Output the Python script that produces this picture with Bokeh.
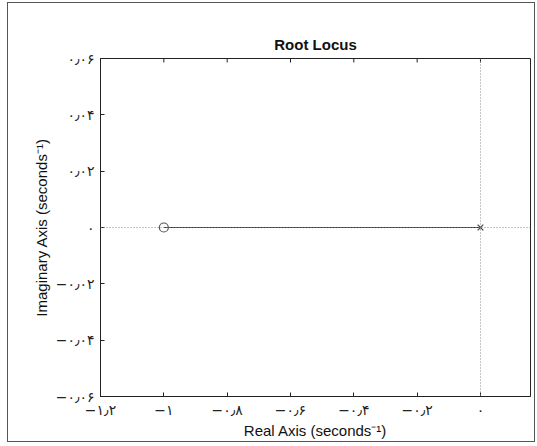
import math
from bokeh.plotting import figure
from bokeh.models import FixedTicker, Range1d, Span
from bokeh.embed import file_html
from bokeh.resources import INLINE

# data
zero_re = [-1.0]
zero_im = [0.0]
pole_re = [0.0]
pole_im = [0.0]
locus_re = [-1.0, 0.0]
locus_im = [0.0, 0.0]

x_ticks = [-1.2, -1.0, -0.8, -0.6, -0.4, -0.2, 0.0, 0.2]
x_labels = ["−۱٫۲", "−۱", "−۰٫۸", "−۰٫۶", "−۰٫۴", "−۰٫۲", "۰", "۰٫۲"]
y_ticks = [-0.06, -0.04, -0.02, 0.0, 0.02, 0.04, 0.06]
y_labels = ["−۰٫۰۶", "−۰٫۰۴", "−۰٫۰۲", "۰", "۰٫۰۲", "۰٫۰۴", "۰٫۰۶"]

p = figure(frame_width=430, frame_height=338, output_backend="svg",
           toolbar_location=None, x_range=Range1d(-1.2, 0.158),
           y_range=Range1d(-0.06, 0.06),
           min_border_left=92, min_border_top=55, min_border_bottom=44,
           min_border_right=4, title="Root Locus")
p.styles = {"border": "1px solid #555", "margin": "2px 0 0 7px"}
p.grid.visible = False
p.outline_line_color = "#222222"
p.outline_line_width = 1

p.title.align = "center"
p.title.text_font = "Liberation Sans"
p.title.text_font_size = "15px"
p.title.text_font_style = "bold"
p.title.text_color = "#111111"
p.title.standoff = 11


def style_axis(ax):
    ax.major_tick_in = 4
    ax.major_tick_out = 0
    ax.minor_tick_in = 0
    ax.minor_tick_out = 0
    ax.axis_line_color = "#222222"
    ax.major_tick_line_color = "#222222"
    ax.major_label_text_font = "DejaVu Sans"
    ax.major_label_text_font_size = "14px"
    ax.major_label_text_color = "#222222"
    ax.axis_label_text_font = "Liberation Sans"
    ax.axis_label_text_font_size = "15px"
    ax.axis_label_text_font_style = "normal"
    ax.axis_label_text_color = "#111111"


xa = p.xaxis[0]
xa.ticker = FixedTicker(ticks=x_ticks)
xa.major_label_overrides = dict(zip(x_ticks, x_labels))
xa.axis_label = "Real Axis (seconds⁻¹)"
style_axis(xa)
xa.major_label_standoff = 5
xa.axis_label_standoff = 1

ya = p.yaxis[0]
ya.ticker = FixedTicker(ticks=y_ticks)
ya.major_label_overrides = dict(zip(y_ticks, y_labels))
ya.axis_label = "Imaginary Axis (seconds⁻¹)"
style_axis(ya)
ya.major_label_standoff = 6
ya.axis_label_standoff = 3

# inward tick marks on the top edge of the box (half clipped by the frame)
p.scatter(x_ticks, [y_ticks[-1]] * len(x_ticks), marker="dash", angle=math.pi / 2,
          size=8, line_color="#222222", line_width=1)

# zero reference dotted lines
p.add_layout(Span(location=0, dimension="width", line_color="#888888",
                  line_dash="1 2", line_width=1))
p.add_layout(Span(location=0, dimension="height", line_color="#888888",
                  line_dash="1 2", line_width=1))

p.line(locus_re, locus_im, line_color="#333333", line_width=1.2)
p.scatter(zero_re, zero_im, marker="circle", size=9, fill_color=None,
          line_color="#555555", line_width=1.2)
p.scatter(pole_re, pole_im, marker="x", size=8, line_color="#444444",
          line_width=1.2)

open("out.html", "w").write(file_html(p, INLINE))
